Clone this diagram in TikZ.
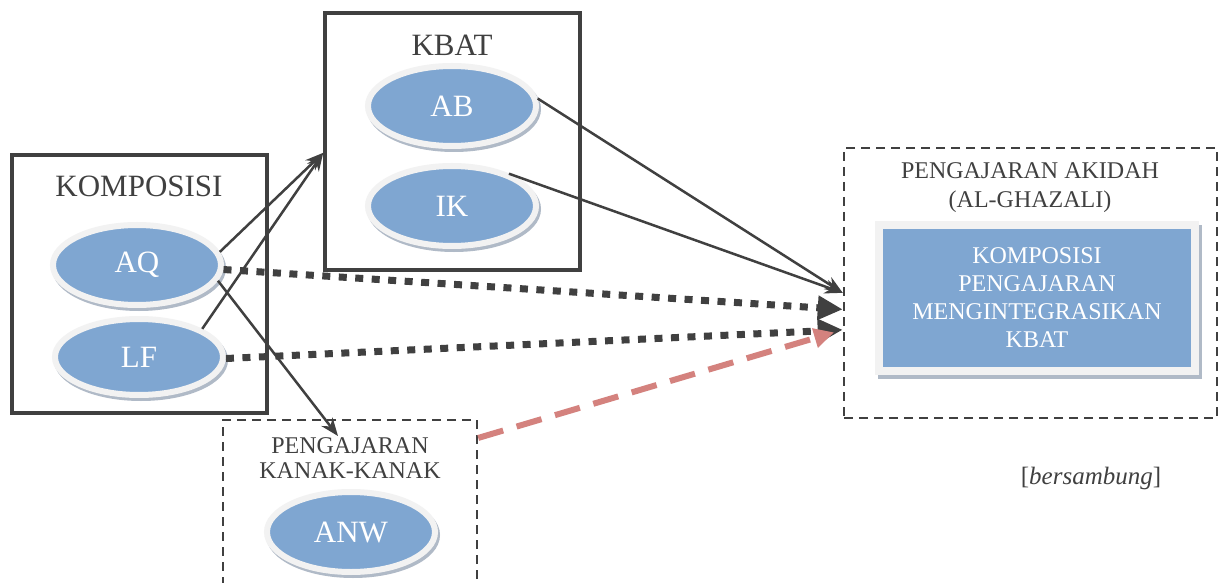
\documentclass[tikz,border=0pt]{standalone}
\usepackage{fontspec}
\setmainfont{Liberation Serif}
\usetikzlibrary{arrows.meta,shapes.geometric,calc}
\definecolor{ovalblue}{HTML}{7FA6D1}
\definecolor{rim}{HTML}{F2F2F2}
\definecolor{shade}{HTML}{B0BAC7}
\definecolor{ink}{HTML}{404040}
\definecolor{pinkred}{HTML}{D4827E}
\begin{document}
\begin{tikzpicture}[x=1pt,y=-1pt,
  oval/.style={ellipse, fill=ovalblue, draw=rim, line width=6pt,
    minimum width=168pt, minimum height=80pt, inner sep=0pt, text=white,
    font=\fontsize{31}{31}\selectfont,
    preaction={draw=shade, fill=shade, line width=6pt,
      transform canvas={xshift=2pt,yshift=-3pt}}},
  solidbox/.style={draw=ink, line width=3.5pt, rectangle, inner sep=0pt},
  dashbox/.style={draw=ink, line width=2.5pt, dash pattern=on 9pt off 6pt,
    rectangle, inner sep=0pt},
  bigtitle/.style={text=ink, align=center, font=\fontsize{31}{31}\selectfont},
  smalltitle/.style={text=ink, align=center, font=\fontsize{24}{27}\selectfont},
  thinarrow/.style={draw=ink, line width=2.5pt, -{Stealth[length=18pt,width=14pt]}},
  dotarrow/.style={draw=ink, line width=7pt, dash pattern=on 8pt off 8.5pt,
    -{Triangle[length=25pt,width=23pt]}},
  redarrow/.style={draw=pinkred, line width=6pt, dash pattern=on 26pt off 14pt,
    -{Triangle[length=20pt,width=19pt]}},
]
\useasboundingbox (0,0) rectangle (1219,583);
\clip (0,0) rectangle (1219,583);
\fill[white] (0,0) rectangle (1219,583);

% KOMPOSISI group
\node[solidbox, minimum width=255pt, minimum height=258pt] (komp) at (139.5,284) {};
\node[bigtitle] (kompt) at (139,186) {KOMPOSISI};
\node[oval] (AQ) at (137,265) {AQ};
\node[oval, minimum height=76pt] (LF) at (139,357) {LF};

% KBAT group
\node[solidbox, minimum width=255pt, minimum height=257pt] (kbat) at (452.5,141.5) {};
\node[bigtitle] (kbatt) at (452,45) {KBAT};
\node[oval] (AB) at (452,106) {AB};
\node[oval] (IK) at (452,206) {IK};

% Pengajaran Akidah group
\node[dashbox, minimum width=373pt, minimum height=270pt] (akidah) at (1030.5,283) {};
\node[smalltitle, font=\fontsize{24}{29}\selectfont] (akidaht) at (1030,188) {PENGAJARAN AKIDAH\\(AL-GHAZALI)};
\node[rectangle, fill=ovalblue, draw=rim, line width=8pt, minimum width=316pt,
  minimum height=146pt, inner sep=0pt, text=white, align=center,
  font=\fontsize{24}{28}\selectfont,
  preaction={draw=shade, fill=shade, line width=8pt,
    transform canvas={xshift=3pt,yshift=-4pt}}] (kpm) at (1037,298)
  {KOMPOSISI\\PENGAJARAN\\MENGINTEGRASIKAN\\KBAT};

% Pengajaran Kanak-kanak group
\node[dashbox, minimum width=254pt, minimum height=190pt] (kanak) at (350,515) {};
\node[smalltitle, font=\fontsize{24}{25}\selectfont] (kanakt) at (350,458) {PENGAJARAN\\KANAK-KANAK};
\node[oval] (ANW) at (351,532) {ANW};

\node[text=ink, font=\fontsize{25}{25}\selectfont] (bers) at (1091,478) {[\textit{bersambung}]};

% connectors
\draw[thinarrow] (AQ.9) -- (kbat.185);
\draw[thinarrow] (LF.24) -- (kbat.185);
\draw[thinarrow] (AQ.-11) -- ($(kanakt.north)+(-12,2)$);
\draw[thinarrow] (AB.5) -- (akidah.183);
\draw[thinarrow, shorten <=16pt] (IK.42) -- (akidah.183);
\draw[dotarrow] (AQ.-3) -- (akidah.188);
\draw[dotarrow] (LF.-1) -- (akidah.194);
\draw[redarrow, shorten >=9pt] (kanak.31.6) -- (akidah.194);
\end{tikzpicture}
\end{document}
